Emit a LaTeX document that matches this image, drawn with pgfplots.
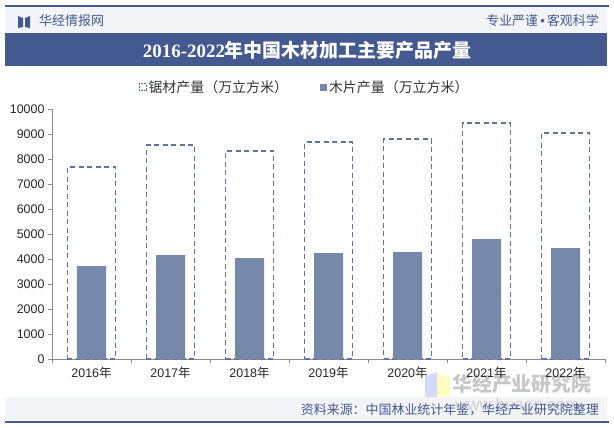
\documentclass[border=0pt]{standalone}
\usepackage{fontspec}
\setmainfont{Liberation Sans}
\newfontfamily\cjk{Noto Sans CJK SC}
\newfontfamily\serif{Liberation Serif}
\usepackage{pgfplots}
\pgfplotsset{compat=1.18}
\definecolor{hjblue}{HTML}{44598F}
\definecolor{barfill}{HTML}{7689AA}
\definecolor{dashc}{HTML}{5F739E}
\definecolor{headbg}{HTML}{F2F4F8}
\definecolor{axgray}{HTML}{8C8C8C}

\begin{document}
\begin{tikzpicture}
\path[use as bounding box] (0,0) rectangle (614bp,-428bp);

% header
\fill[headbg] (5bp,-7bp) rectangle (607bp,-33bp);
\draw[hjblue, line width=1.5bp] (5bp,-6bp) -- (609bp,-6bp);
\fill[hjblue] (5bp,-33bp) rectangle (607bp,-66bp);
\fill[hjblue] (18bp,-16bp) -- (23bp,-18bp) -- (23bp,-27bp) -- (18bp,-28bp) -- cycle;
\fill[hjblue] (30bp,-16bp) -- (25bp,-18bp) -- (25bp,-27bp) -- (30bp,-28bp) -- cycle;
\node[anchor=west, text=hjblue, font=\fontsize{13}{15}\selectfont\cjk, inner sep=0] at (39bp,-21bp) {华经情报网};
\node[anchor=east, text=hjblue, font=\fontsize{13}{15}\selectfont\cjk, inner sep=0] at (599bp,-21bp) {专业严谨{\rmfamily\,•\,}客观科学};
\node[text=white, inner sep=0] at (307bp,-50bp) {\fontsize{19}{22}\selectfont\bfseries\serif 2016-2022{\cjk 年中国木材加工主要产品产量}};

% watermark bottom right
\fill[blue!30, opacity=0.5] (425bp,-376bp) -- (437bp,-372bp) -- (437bp,-418bp) -- (425bp,-418bp) -- cycle;
\fill[yellow!40, opacity=0.6] (437bp,-372bp) -- (450bp,-378bp) -- (450bp,-418bp) -- (437bp,-418bp) -- cycle;
\node[anchor=west, text=black!22, font=\fontsize{20}{22}\selectfont\bfseries\cjk, inner sep=0] at (452bp,-384bp) {华经产业研究院};

% footer
\fill[headbg] (5bp,-397bp) rectangle (607bp,-420bp);
\node[anchor=west, text=black!18, font=\fontsize{17}{19}\selectfont, inner sep=0] at (455bp,-404bp) {www.huaon.com};
\draw[hjblue, line width=1.5bp] (5bp,-422bp) -- (609bp,-422bp);
\node[anchor=east, text=hjblue, font=\fontsize{13}{15}\selectfont\cjk, inner sep=0] at (599bp,-410bp) {资料来源：中国林业统计年鉴，华经产业研究院整理};

\begin{axis}[
  at={(52bp,-359bp)}, anchor=south west,
  scale only axis, width=553bp, height=250bp,
  xmin=-0.5, xmax=6.5, ymin=0, ymax=10000,
  axis x line*=bottom, axis y line*=left,
  axis line style={axgray, -},
  xtick={-0.5,0.5,...,6.5}, x tick label as interval,
  xticklabels={{2016{\cjk 年}},{2017{\cjk 年}},{2018{\cjk 年}},{2019{\cjk 年}},{2020{\cjk 年}},{2021{\cjk 年}},{2022{\cjk 年}}},
  ytick={0,1000,...,10000},
  tick align=outside, major tick length=4bp,
  tick style={axgray},
  scaled y ticks=false,
  /pgf/number format/1000 sep={},
  /pgf/number format/assume math mode=true,
  ticklabel style={font=\fontsize{12.5}{14}\selectfont, text=black!85},
  legend style={at={(rel axis cs:0.457,1.088)}, anchor=center, draw=none, fill=none,
    legend columns=2, font=\fontsize{14}{16}\selectfont\cjk, text=black!80,
    /tikz/every even column/.append style={column sep=30bp}},
  legend cell align=left,
]
\addplot[ybar, bar width=48bp, bar shift=0pt, draw=dashc, fill=none, line width=1.1bp,
  dash pattern=on 5bp off 3.5bp,
  legend image code/.code={\draw[dashc, line width=0.6bp, dash pattern=on 2bp off 1bp] (0bp,-3.5bp) rectangle (7bp,3.5bp);}]
  coordinates {(0,7680) (1,8560) (2,8320) (3,8680) (4,8800) (5,9440) (6,9040)};
\addlegendentry{锯材产量（万立方米）}
\addplot[ybar, bar width=29bp, bar shift=0pt, fill=barfill, draw=none,
  legend image code/.code={\fill[barfill] (0bp,-3.5bp) rectangle (7bp,3.5bp);}]
  coordinates {(0,3720) (1,4160) (2,4040) (3,4240) (4,4280) (5,4800) (6,4440)};
\addlegendentry{木片产量（万立方米）}
\end{axis}
\end{tikzpicture}
\end{document}
